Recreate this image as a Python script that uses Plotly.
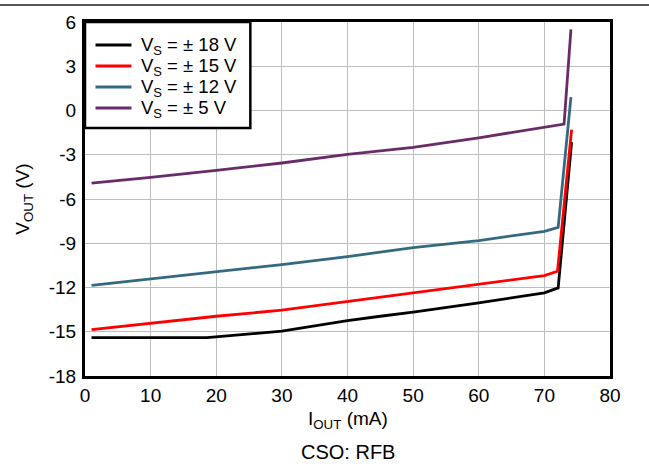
import plotly.graph_objects as go

# Output voltage swing vs output current for each supply voltage
iout_18 = [1, 18.6, 30, 40, 45, 50, 60, 70, 72.1, 74.15]
vout_18 = [-15.4, -15.4, -14.96, -14.24, -13.95, -13.67, -13.04, -12.36, -12.03, -2.14]

iout_15 = [1, 10, 20, 30, 45, 50, 60, 70, 72.0, 74.15]
vout_15 = [-14.85, -14.4, -13.95, -13.54, -12.66, -12.36, -11.8, -11.19, -10.9, -1.3]

iout_12 = [1, 10, 20, 30, 40, 50, 60, 70, 72.1, 74.05]
vout_12 = [-11.85, -11.41, -10.97, -10.45, -9.9, -9.3, -8.82, -8.19, -7.92, 0.91]

iout_5 = [1, 10, 20, 30, 40, 50, 60, 73.0, 74.05]
vout_5 = [-4.92, -4.54, -4.06, -3.56, -2.98, -2.5, -1.85, -0.92, 5.5]

x_ticks = [0, 10, 20, 30, 40, 50, 60, 70, 80]
y_ticks = [-18, -15, -12, -9, -6, -3, 0, 3, 6]

series = [
    ("V<sub>S</sub> = ± 18 V", iout_18, vout_18, "#000000"),
    ("V<sub>S</sub> = ± 15 V", iout_15, vout_15, "#ff0000"),
    ("V<sub>S</sub> = ± 12 V", iout_12, vout_12, "#336a80"),
    ("V<sub>S</sub> = ± 5 V", iout_5, vout_5, "#6a2c69"),
]

W, H = 649, 473
ML, MR, MT, MB = 84.5, 39, 22, 97
PW, PH = W - ML - MR, H - MT - MB


def px_x(p):
    """Pixel column -> paper x."""
    return (p - ML) / PW


def px_y(p):
    """Pixel row -> paper y."""
    return (H - MB - p) / PH


fig = go.Figure()
for name, xs, ys, color in series:
    fig.add_trace(go.Scatter(x=xs, y=ys, mode="lines", name=name,
                             line=dict(color=color, width=2.8), showlegend=False))

font = "Liberation Sans, Arial, sans-serif"
fig.update_layout(
    width=W, height=H,
    margin=dict(l=ML, r=MR, t=MT, b=MB),
    paper_bgcolor="white", plot_bgcolor="white",
    font=dict(family=font, size=19, color="black"),
    showlegend=False,
    xaxis=dict(range=[0, 80], tickvals=x_ticks, ticktext=[str(v) for v in x_ticks],
               showgrid=True, gridcolor="#bdbdbd", gridwidth=1,
               showline=True, linecolor="black", linewidth=3, mirror=True,
               ticks="", zeroline=False, tickfont=dict(size=19), ticklabelstandoff=0),
    yaxis=dict(range=[-18, 6], tickvals=y_ticks, ticktext=[str(v) for v in y_ticks],
               showgrid=True, gridcolor="#bdbdbd", gridwidth=1,
               showline=True, linecolor="black", linewidth=3, mirror=True,
               ticks="", zeroline=False, tickfont=dict(size=19), ticklabelstandoff=2,
               title=dict(text="V<sub>OUT</sub> (V)", font=dict(size=19), standoff=15)),
)

# Legend box drawn in the upper-left corner of the plot
fig.add_shape(type="rect", xref="paper", yref="paper",
              x0=0, x1=px_x(250), y0=px_y(128), y1=1,
              line=dict(color="black", width=2.5), fillcolor="white", layer="above")
for i, (name, _, _, color) in enumerate(series):
    row = 45 + 21 * i
    fig.add_shape(type="line", xref="paper", yref="paper",
                  x0=px_x(95), x1=px_x(131), y0=px_y(row), y1=px_y(row),
                  line=dict(color=color, width=2.8), layer="above")
    fig.add_annotation(text=name, xref="paper", yref="paper",
                       x=px_x(139), y=px_y(row + 1), xanchor="left", yanchor="middle",
                       showarrow=False, font=dict(family=font, size=18.5, color="black"))

# X-axis title
fig.add_annotation(text="I<sub>OUT</sub> (mA)", xref="paper", yref="paper",
                   x=0.5, y=px_y(420), xanchor="center", yanchor="middle",
                   showarrow=False, font=dict(family=font, size=19, color="black"))

# Rule across the top of the page
fig.add_shape(type="line", xref="paper", yref="paper",
              x0=px_x(-5), x1=px_x(W + 5), y0=px_y(5), y1=px_y(5),
              line=dict(color="#555555", width=2))

# Caption below the axis title
fig.add_annotation(text="CSO: RFB", xref="paper", yref="paper",
                   x=0.5, y=px_y(452), xanchor="center", yanchor="middle",
                   showarrow=False, font=dict(family=font, size=20, color="black"))

fig.write_html("out.html")
